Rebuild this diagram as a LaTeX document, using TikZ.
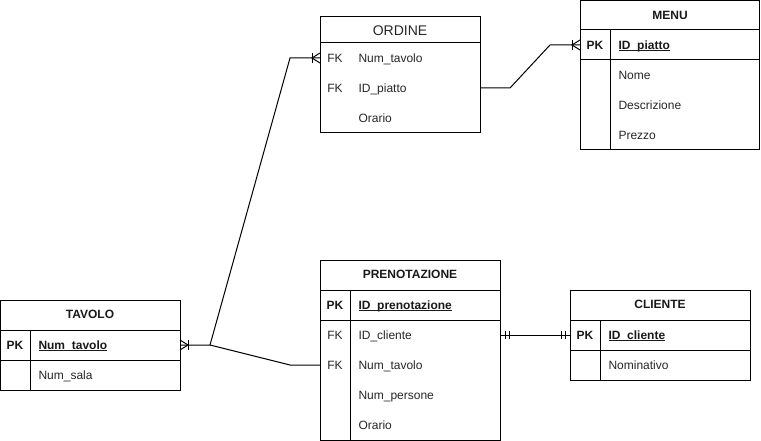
\documentclass[tikz,border=0pt]{standalone}
\usepackage{fontspec}
\setmainfont{Liberation Sans}
\newcommand\myul[1]{\setbox0\hbox{#1}\rlap{\rule[-1.7pt]{\wd0}{0.8pt}}\box0}
\begin{document}
\begin{tikzpicture}[x=1pt,y=-1pt,line width=1pt,
  tbl/.style={draw=black,anchor=north west,inner sep=0pt,outer sep=0pt},
  ttl/.style={anchor=base,inner sep=0pt,font=\fontsize{12}{14}\selectfont\bfseries,text=black!90},
  ttlplain/.style={anchor=base,inner sep=0pt,font=\fontsize{14}{16}\selectfont,text=black!85},
  fld/.style={anchor=base west,inner sep=0pt,font=\fontsize{12}{14}\selectfont,text=black!85},
  pkfld/.style={anchor=base west,inner sep=0pt,font=\fontsize{12}{14}\selectfont\bfseries,text=black!90},
  keyc/.style={anchor=base,inner sep=0pt,font=\fontsize{12}{14}\selectfont,text=black!85},
  pkkey/.style={anchor=base,inner sep=0pt,font=\fontsize{12}{14}\selectfont\bfseries,text=black!90},
  conn/.style={draw=black,line width=1pt}]
\useasboundingbox (0,0) rectangle (761,441);

% ORDINE
\node[tbl,minimum width=160pt,minimum height=116pt] (ordine) at (320,17) {};
\node[ttlplain] (ordine-t) at (400,36) {ORDINE};
\draw (320,43) -- (480,43);
\node[keyc] (o-fk1) at (335,62.3) {FK};
\node[fld] (o-numtav) at (358,62.3) {Num\_tavolo};
\node[keyc] (o-fk2) at (335,92.3) {FK};
\node[fld] (o-idp) at (358,92.3) {ID\_piatto};
\node[fld] (o-ora) at (358,122.3) {Orario};

% MENU
\node[tbl,minimum width=179.5pt,minimum height=149.5pt] (menu) at (580,0.5) {};
\node[ttl] (menu-t) at (670,19.3) {MENU};
\draw (580,30) -- (760,30);
\draw (580,60) -- (760,60);
\draw (610,30) -- (610,150);
\node[pkkey] (m-pk) at (595,49.3) {PK};
\node[pkfld] (m-idp) at (618,49.3) {\myul{ID\_piatto}};
\node[fld] (m-nome) at (618,79.3) {Nome};
\node[fld] (m-desc) at (618,109.3) {Descrizione};
\node[fld] (m-prezzo) at (618,139.3) {Prezzo};

% TAVOLO
\node[tbl,minimum width=179.5pt,minimum height=90pt] (tavolo) at (0.5,300) {};
\node[ttl] (tavolo-t) at (90,318.3) {TAVOLO};
\draw (0.5,330) -- (180,330);
\draw (0.5,360) -- (180,360);
\draw (30,330) -- (30,390);
\node[pkkey] (t-pk) at (15,349.3) {PK};
\node[pkfld] (t-numtav) at (38,349.3) {\myul{Num\_tavolo}};
\node[fld] (t-sala) at (38,379.3) {Num\_sala};

% PRENOTAZIONE
\node[tbl,minimum width=180pt,minimum height=180pt] (pren) at (320,260) {};
\node[ttl] (pren-t) at (410,278.3) {PRENOTAZIONE};
\draw (320,290) -- (500,290);
\draw (320,320) -- (500,320);
\draw (350,290) -- (350,440);
\node[pkkey] (p-pk) at (335,309.3) {PK};
\node[pkfld] (p-idpren) at (358,309.3) {\myul{ID\_prenotazione}};
\node[keyc] (p-fk1) at (335,339.3) {FK};
\node[fld] (p-idc) at (358,339.3) {ID\_cliente};
\node[keyc] (p-fk2) at (335,369.3) {FK};
\node[fld] (p-numtav) at (358,369.3) {Num\_tavolo};
\node[fld] (p-pers) at (358,399.3) {Num\_persone};
\node[fld] (p-ora) at (358,429.3) {Orario};

% CLIENTE
\node[tbl,minimum width=180pt,minimum height=90pt] (cliente) at (570,290) {};
\node[ttl] (cliente-t) at (660,308.3) {CLIENTE};
\draw (570,320) -- (750,320);
\draw (570,350) -- (750,350);
\draw (600,320) -- (600,380);
\node[pkkey] (c-pk) at (585,339.3) {PK};
\node[pkfld] (c-idc) at (608,339.3) {\myul{ID\_cliente}};
\node[fld] (c-nom) at (608,369.3) {Nominativo};

% connector end points (rows are 30 high; row centre is 4.3 above the baseline)
\coordinate (tav-r) at ([yshift=4.3pt]tavolo.east |- t-pk.base);
\coordinate (j1) at (210,345);
\coordinate (ord-l) at ([yshift=4.3pt]ordine.west |- o-fk1.base);
\coordinate (pre-l) at ([yshift=4.3pt]pren.west |- p-fk2.base);
\coordinate (ord-r) at ([yshift=4.3pt]ordine.east |- o-fk2.base);
\coordinate (menu-l) at ([yshift=4.3pt]menu.west |- m-pk.base);
\coordinate (pre-r) at ([yshift=4.3pt]pren.east |- p-fk1.base);
\coordinate (cli-l) at ([yshift=4.3pt]cliente.west |- c-pk.base);

% connectors
\draw[conn] (tav-r) -- (j1) -- ([xshift=-30pt]ord-l) -- (ord-l);
\draw[conn] (j1) -- ([xshift=-30pt]pre-l) -- (pre-l);
\draw[conn] (ord-r) -- ([xshift=30pt]ord-r) -- ([xshift=-30pt]menu-l) -- (menu-l);
\draw[conn] (pre-r) -- (cli-l);

% crow's feet (one or many)
\draw[conn] ([yshift=5pt]tav-r) -- ([xshift=8pt]tav-r) -- ([yshift=-5pt]tav-r);
\draw[conn] ([xshift=8pt,yshift=5pt]tav-r) -- ([xshift=8pt,yshift=-5pt]tav-r);
\draw[conn] ([yshift=5pt]ord-l) -- ([xshift=-8pt]ord-l) -- ([yshift=-5pt]ord-l);
\draw[conn] ([xshift=-8pt,yshift=5pt]ord-l) -- ([xshift=-8pt,yshift=-5pt]ord-l);
\draw[conn] ([yshift=5pt]menu-l) -- ([xshift=-8pt]menu-l) -- ([yshift=-5pt]menu-l);
\draw[conn] ([xshift=-8pt,yshift=5pt]menu-l) -- ([xshift=-8pt,yshift=-5pt]menu-l);

% mandatory one
\draw[conn] ([xshift=5pt,yshift=4pt]pre-r) -- ([xshift=5pt,yshift=-4pt]pre-r);
\draw[conn] ([xshift=9pt,yshift=4pt]pre-r) -- ([xshift=9pt,yshift=-4pt]pre-r);
\draw[conn] ([xshift=-5pt,yshift=4pt]cli-l) -- ([xshift=-5pt,yshift=-4pt]cli-l);
\draw[conn] ([xshift=-9pt,yshift=4pt]cli-l) -- ([xshift=-9pt,yshift=-4pt]cli-l);
\end{tikzpicture}
\end{document}
